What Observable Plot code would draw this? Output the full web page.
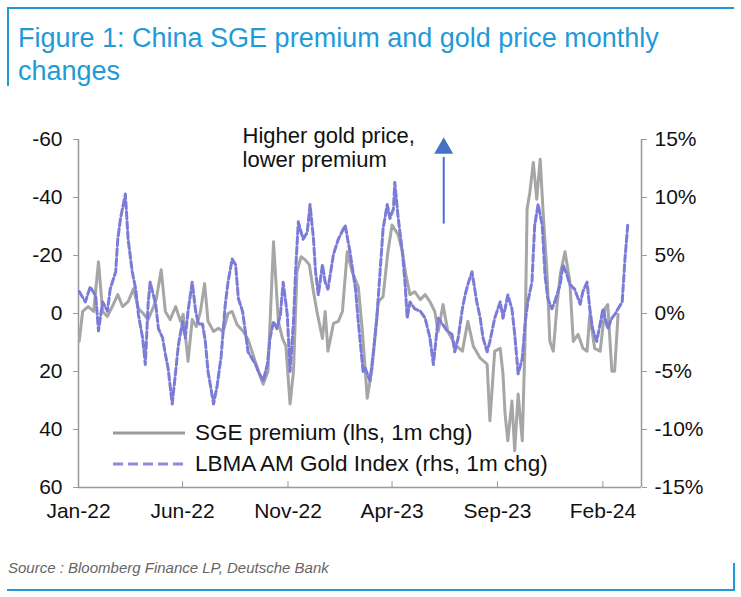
<!DOCTYPE html>
<html>
<head>
<meta charset="utf-8">
<script src="https://cdn.jsdelivr.net/npm/d3@7"></script>
<script src="https://cdn.jsdelivr.net/npm/@observablehq/plot@0.6"></script>
<style>
  body { margin: 0; background: #fff; }
  #page { position: relative; width: 741px; height: 597px; overflow: hidden; font-family: "Liberation Sans", Arial, sans-serif; }
  .bar { position: absolute; background: #1f9ad8; }
  #title { position: absolute; left: 18px; top: 22px; font-size: 27px; line-height: 33px; color: #1f9ad8; }
  #chart { position: absolute; left: 0; top: 100px; }
  .leg { position: absolute; left: 113px; font-size: 22.5px; color: #111; display: flex; align-items: center; height: 26px; }
  .leg svg { margin-right: 10px; }
  #source { position: absolute; left: 8px; top: 559px; font-size: 15px; font-style: italic; color: #666; }
</style>
</head>
<body>
<div id="page">
  <div class="bar" style="left:7px;top:7px;width:727px;height:2px"></div>
  <div class="bar" style="left:7px;top:7px;width:2px;height:79px"></div>
  <div id="title">Figure 1: China SGE premium and gold price monthly<br>changes</div>
  <div id="chart"></div>
  <div class="leg" style="top:420px"><svg width="72" height="6"><line x1="0" y1="3" x2="72" y2="3" stroke="#9a9a9a" stroke-width="3"/></svg>SGE premium (lhs, 1m chg)</div>
  <div class="leg" style="top:451px"><svg width="72" height="6"><line x1="0" y1="3" x2="72" y2="3" stroke="#8a8ae0" stroke-width="3" stroke-dasharray="10,5"/></svg>LBMA AM Gold Index (rhs, 1m chg)</div>
  <div id="source">Source : Bloomberg Finance LP, Deutsche Bank</div>
  <div class="bar" style="left:7px;top:589px;width:728px;height:2px"></div>
  <div class="bar" style="left:733px;top:563px;width:2px;height:28px"></div>
</div>
<script>
// SGE premium (lhs, 1m change)
const sgeDates = ["2022-01-02","2022-01-07","2022-01-15","2022-01-23","2022-01-30","2022-02-05","2022-02-12","2022-02-19","2022-02-27","2022-03-06","2022-03-14","2022-03-22","2022-03-29","2022-04-05","2022-04-12","2022-04-20","2022-04-24","2022-05-01","2022-05-07","2022-05-14","2022-05-22","2022-05-29","2022-06-02","2022-06-09","2022-06-15","2022-06-21","2022-06-27","2022-07-03","2022-07-08","2022-07-16","2022-07-23","2022-07-30","2022-08-06","2022-08-12","2022-08-19","2022-08-28","2022-09-04","2022-09-12","2022-09-19","2022-09-26","2022-10-03","2022-10-11","2022-10-18","2022-10-24","2022-10-29","2022-11-04","2022-11-09","2022-11-14","2022-11-20","2022-11-26","2022-12-02","2022-12-08","2022-12-13","2022-12-21","2022-12-25","2022-12-29","2023-01-06","2023-01-13","2023-01-19","2023-01-26","2023-02-02","2023-02-11","2023-02-17","2023-02-24","2023-03-03","2023-03-12","2023-03-19","2023-03-26","2023-04-01","2023-04-10","2023-04-16","2023-04-21","2023-04-27","2023-05-04","2023-05-12","2023-05-19","2023-05-26","2023-06-02","2023-06-07","2023-06-14","2023-06-21","2023-07-01","2023-07-12","2023-07-20","2023-07-28","2023-08-07","2023-08-17","2023-08-21","2023-08-28","2023-09-05","2023-09-09","2023-09-12","2023-09-16","2023-09-22","2023-09-26","2023-10-01","2023-10-07","2023-10-11","2023-10-14","2023-10-18","2023-10-23","2023-10-28","2023-11-02","2023-11-06","2023-11-12","2023-11-16","2023-11-21","2023-11-26","2023-12-01","2023-12-08","2023-12-15","2023-12-20","2023-12-27","2024-01-03","2024-01-09","2024-01-13","2024-01-20","2024-01-28","2024-02-04","2024-02-08","2024-02-14","2024-02-18","2024-02-23"];
const sgeValues = [9.6,-0.7,-2.4,-0.7,-17.8,-0.7,1.0,-2.4,-6.5,-2.4,-4.1,-8.6,-1.7,0,2.1,-2.4,-5.1,-15.1,-0.7,2.1,-2.4,2.7,0.3,16.5,2.1,4.5,-0.7,-10.3,2.7,6.2,5.1,6.2,0,-0.7,3.8,6.2,8.9,14.7,19.9,24.4,19.9,-24.7,2.7,8.6,11.3,31.2,19.9,-14.4,-19.6,-18.5,-16.8,-7.5,-0.7,8.6,-0.7,13.0,3.4,2.7,-0.7,-21.3,-14.4,-9.3,6.2,29.2,18.9,-4.1,-5.8,-21.3,-30.5,-27.1,-21.3,-13.4,-6.5,-7.5,-4.8,-6.5,-4.1,-0.7,6.2,-3.1,6.2,10.6,13.0,2.7,11.3,15.4,17.5,37.0,13.0,12.0,20.9,34.6,43.9,30.2,47.3,27.8,43.9,9.6,-36.0,-41.8,-52.1,-39.4,-53.2,-36.0,-13.4,9.6,13.0,-1.7,-13.4,-21.3,-11.0,9.6,7.2,12.0,13.0,0.3,12.0,13.0,-1.7,-3.1,19.9,19.9,0.3];

// LBMA AM Gold Index (rhs, 1m change, %)
const lbmaDates = ["2022-01-02","2022-01-11","2022-01-18","2022-01-26","2022-01-30","2022-02-05","2022-02-12","2022-02-16","2022-02-24","2022-02-27","2022-03-03","2022-03-07","2022-03-10","2022-03-14","2022-03-20","2022-03-25","2022-03-29","2022-04-04","2022-04-08","2022-04-12","2022-04-15","2022-04-23","2022-04-27","2022-05-03","2022-05-07","2022-05-11","2022-05-17","2022-05-22","2022-05-26","2022-06-01","2022-06-05","2022-06-09","2022-06-15","2022-06-20","2022-06-24","2022-06-30","2022-07-04","2022-07-08","2022-07-16","2022-07-21","2022-07-27","2022-08-02","2022-08-06","2022-08-12","2022-08-17","2022-08-21","2022-08-27","2022-08-31","2022-09-04","2022-09-10","2022-09-15","2022-09-19","2022-09-26","2022-10-02","2022-10-06","2022-10-11","2022-10-16","2022-10-21","2022-10-25","2022-10-31","2022-11-04","2022-11-09","2022-11-12","2022-11-16","2022-11-23","2022-11-29","2022-12-03","2022-12-08","2022-12-11","2022-12-15","2022-12-21","2022-12-25","2022-12-29","2023-01-06","2023-01-13","2023-01-23","2023-01-30","2023-02-07","2023-02-11","2023-02-18","2023-02-21","2023-02-28","2023-03-05","2023-03-10","2023-03-15","2023-03-19","2023-03-25","2023-03-29","2023-04-03","2023-04-05","2023-04-10","2023-04-16","2023-04-20","2023-04-23","2023-04-27","2023-05-04","2023-05-12","2023-05-19","2023-05-26","2023-05-31","2023-06-07","2023-06-13","2023-06-20","2023-06-27","2023-07-01","2023-07-06","2023-07-12","2023-07-16","2023-07-20","2023-07-26","2023-08-02","2023-08-07","2023-08-11","2023-08-17","2023-08-21","2023-08-28","2023-09-05","2023-09-09","2023-09-12","2023-09-16","2023-09-22","2023-09-26","2023-10-01","2023-10-07","2023-10-11","2023-10-15","2023-10-21","2023-10-25","2023-10-30","2023-11-05","2023-11-09","2023-11-13","2023-11-19","2023-11-23","2023-12-01","2023-12-05","2023-12-11","2023-12-15","2023-12-22","2023-12-30","2024-01-03","2024-01-09","2024-01-13","2024-01-17","2024-01-23","2024-01-28","2024-02-01","2024-02-08","2024-02-14","2024-02-18","2024-02-23","2024-02-29","2024-03-04","2024-03-08"];
const lbmaValues = [1.9,1.0,2.3,1.5,-1.5,1.0,0.2,2.1,3.6,6.4,8.2,9.4,10.3,6.4,3.6,2.1,-0.1,-2.1,-4.4,0.8,2.7,0.8,-1.3,-2.1,-3.5,-4.7,-7.8,-5.0,-2.7,-0.7,-2.1,0.2,2.7,0.2,-0.9,-0.9,-2.4,-5.0,-7.8,-6.3,-3.7,0.8,2.7,4.7,4.2,1.3,0.2,-1.5,-3.3,-3.9,-4.4,-5.0,-5.8,-4.4,-2.1,-0.7,-1.3,-0.1,2.7,-0.1,-5.0,-0.7,3.6,7.9,6.4,7.0,9.4,6.4,3.6,1.6,4.2,2.7,2.1,5.1,6.4,7.6,5.3,2.1,-0.7,-5.0,-4.7,-5.8,-3.3,-0.4,3.9,7.3,9.4,8.2,9.0,11.3,8.2,5.3,2.5,-0.4,1.0,0.4,0.2,-0.4,-2.1,-4.4,-0.4,-0.9,-1.5,-1.8,-3.3,-2.1,0.4,1.6,2.5,3.6,1.0,-0.4,-2.1,-3.3,-2.4,-0.4,1.0,-0.4,0.4,1.6,0.4,-1.8,-5.2,-3.9,-0.9,1.0,2.7,7.6,9.4,7.6,3.3,1.3,0.4,1.0,2.5,4.2,3.3,2.5,2.1,0.8,1.9,2.7,0.4,-1.3,-2.4,-0.9,0.4,-1.3,-0.4,-0.1,0.4,1.0,4.7,7.6];

const leftTicks = [-60, -40, -20, 0, 20, 40, 60];
const leftTickLabels = ["-60", "-40", "-20", "0", "20", "40", "60"];
const rightTickLabels = ["15%", "10%", "5%", "0%", "-5%", "-10%", "-15%"];
const xTickDates = ["2022-01-01", "2022-06-01", "2022-11-01", "2023-04-01", "2023-09-01", "2024-02-01"];
const xTickLabels = ["Jan-22", "Jun-22", "Nov-22", "Apr-23", "Sep-23", "Feb-24"];
const xDomain = ["2022-01-01", "2024-03-28"];

const annotation = [{date: "2022-08-27", value: -57.3, text: "Higher gold price,\nlower premium"}];
const arrow = [{date: "2023-06-15", from: -31, to: -54, tip: -57}];

const parse = d3.utcParse("%Y-%m-%d");
const sge = sgeDates.map((d, i) => ({date: parse(d), value: sgeValues[i]}));
const lbma = lbmaDates.map((d, i) => ({date: parse(d), value: -lbmaValues[i] * 4}));
const xd = xDomain.map(parse);
const xt = xTickDates.map(parse);

const chart = Plot.plot({
  width: 741,
  height: 430,
  marginTop: 39,
  marginBottom: 43,
  marginLeft: 78,
  marginRight: 100,
  style: {fontFamily: "'Liberation Sans', Arial, sans-serif", fontSize: "21px", color: "#111", background: "transparent"},
  x: {type: "utc", domain: xd},
  y: {domain: [60, -60]},
  marks: [
    Plot.ruleX([xd[0]], {stroke: "#999", strokeWidth: 1.5}),
    Plot.ruleX([xd[1]], {stroke: "#999", strokeWidth: 1.5}),
    Plot.ruleY([60], {stroke: "#999", strokeWidth: 1.5}),
    Plot.axisY({ticks: leftTicks, anchor: "left", tickSize: 5, tickPadding: 11, stroke: "#999", fill: "#111", label: null,
      tickFormat: (d) => leftTickLabels[leftTicks.indexOf(d)]}),
    Plot.axisY({ticks: leftTicks, anchor: "right", tickSize: 5, tickPadding: 8, stroke: "#999", fill: "#111", label: null,
      tickFormat: (d) => rightTickLabels[leftTicks.indexOf(d)]}),
    Plot.axisX({ticks: xt, anchor: "bottom", tickSize: -6, tickPadding: 22, stroke: "#999", fill: "#111", label: null,
      tickFormat: (d) => xTickLabels[xt.findIndex(t => +t === +d)]}),
    Plot.line(sge, {x: "date", y: "value", stroke: "#a6a6a6", strokeWidth: 3}),
    Plot.line(lbma, {x: "date", y: "value", stroke: "#7b7bd8", strokeWidth: 3, strokeDasharray: "7,3"}),
    Plot.link(arrow, {x1: d => parse(d.date), x2: d => parse(d.date), y1: "from", y2: "to", stroke: "#4472c4", strokeWidth: 2}),
    Plot.dot(arrow, {x: d => parse(d.date), y: "tip", symbol: "triangle", r: 7, fill: "#4472c4"}),
    Plot.text(annotation, {x: d => parse(d.date), y: "value", text: "text", textAnchor: "start", lineAnchor: "middle", fontSize: 22, lineHeight: 1.1, fill: "#111"})
  ]
});
document.getElementById("chart").appendChild(chart);
</script>
</body>
</html>
